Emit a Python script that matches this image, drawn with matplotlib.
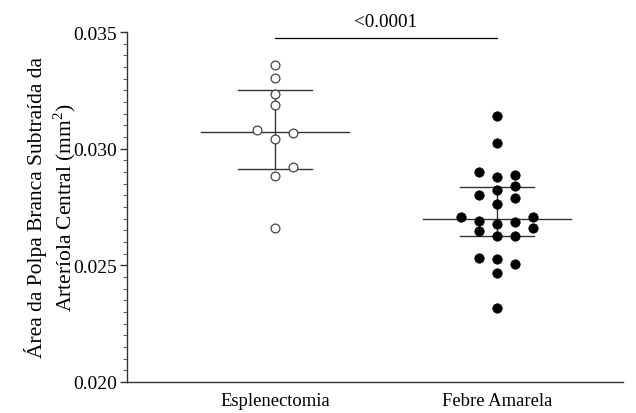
import numpy as np
import matplotlib
matplotlib.use("Agg")
import matplotlib.pyplot as plt

plt.rcParams['font.family'] = ['Liberation Serif', 'DejaVu Serif']
plt.rcParams['mathtext.fontset'] = 'custom'
plt.rcParams['mathtext.rm'] = 'Liberation Serif'

categories = ["Esplenectomia", "Febre Amarela"]
esplenectomia = [0.03359, 0.03304, 0.03234, 0.03187, 0.03079, 0.03067,
                 0.03041, 0.02920, 0.02883, 0.02660]
febre_amarela = [0.03141, 0.03024, 0.02899, 0.02888, 0.02880, 0.02841,
                 0.02824, 0.02801, 0.02787, 0.02763, 0.02706, 0.02706,
                 0.02677, 0.02684, 0.02691, 0.02660, 0.02648, 0.02627,
                 0.02624, 0.02531, 0.02527, 0.02506, 0.02467, 0.02316]
p_label = "<0.0001"
yticks = [0.020, 0.025, 0.030, 0.035]

fig = plt.figure(figsize=(6.36, 4.14), dpi=100)
ax = fig.add_axes([127/636, 31/414, (623-127)/636, 350/414])
ax.set_ylim(0.020, 0.035)
ax.set_xlim(-0.667, 1.568)


def swarm(values, step, thresh):
    order = np.argsort(values)
    prefs = [0, 1, -1, 2, -2, 3, -3]
    placed = {p: [] for p in prefs}
    offs = np.zeros(len(values))
    for i in order:
        v = values[i]
        for p in prefs:
            if all(abs(v - u) >= thresh for u in placed[p]):
                placed[p].append(v)
                offs[i] = p * step
                break
    return offs


step = 18 / 222
thresh = 9.5 / (350 / 0.015)
groups = [np.array(esplenectomia), np.array(febre_amarela)]
line_c = '#333333'
for gi, vals in enumerate(groups):
    x = gi + swarm(vals, step, thresh)
    med = np.median(vals)
    q1, q3 = np.percentile(vals, [25, 75], method='weibull')
    ax.plot([gi - 0.333, gi + 0.333], [med, med], color=line_c, lw=1.0, zorder=1)
    ax.plot([gi - 0.167, gi + 0.167], [q1, q1], color=line_c, lw=1.0, zorder=1)
    ax.plot([gi - 0.167, gi + 0.167], [q3, q3], color=line_c, lw=1.0, zorder=1)
    ax.plot([gi, gi], [q1, q3], color=line_c, lw=1.0, zorder=1)
    if gi == 0:
        ax.scatter(x, vals, s=40, facecolor='white', edgecolor='#444444',
                   linewidth=0.9, zorder=3)
    else:
        ax.scatter(x, vals, s=46, facecolor='black', edgecolor='black',
                   linewidth=0.5, zorder=3)

# significance bracket
yb = 0.03474
ax.plot([0, 1], [yb, yb], color='black', lw=0.9, clip_on=False)
ax.text(0.5, yb + 0.00035, p_label, ha='center', va='bottom', fontsize=13.8,
        clip_on=False)

ax.set_xticks([0, 1])
ax.set_xticklabels(categories, fontsize=13.4)
ax.tick_params(axis='x', length=0, pad=7)
ax.set_yticks(yticks)
ax.set_yticklabels([f"{t:.3f}" for t in yticks], fontsize=14)
ax.set_yticks(np.arange(0.020, 0.0351, 0.0005), minor=True)
ax.tick_params(axis='y', which='major', length=5, width=1, color='#333333', pad=2)
ax.tick_params(axis='y', which='minor', length=3, width=0.8, color='#666666')
for s in ['top', 'right']:
    ax.spines[s].set_visible(False)
for s in ['left', 'bottom']:
    ax.spines[s].set_color('#333333')
    ax.spines[s].set_linewidth(1.0)

ax.set_ylabel("Área da Polpa Branca Subtraída da\nArteríola Central (mm$^2$)",
              fontsize=15.5, labelpad=-3, linespacing=1.2)

fig.savefig("out.png", dpi=100)
